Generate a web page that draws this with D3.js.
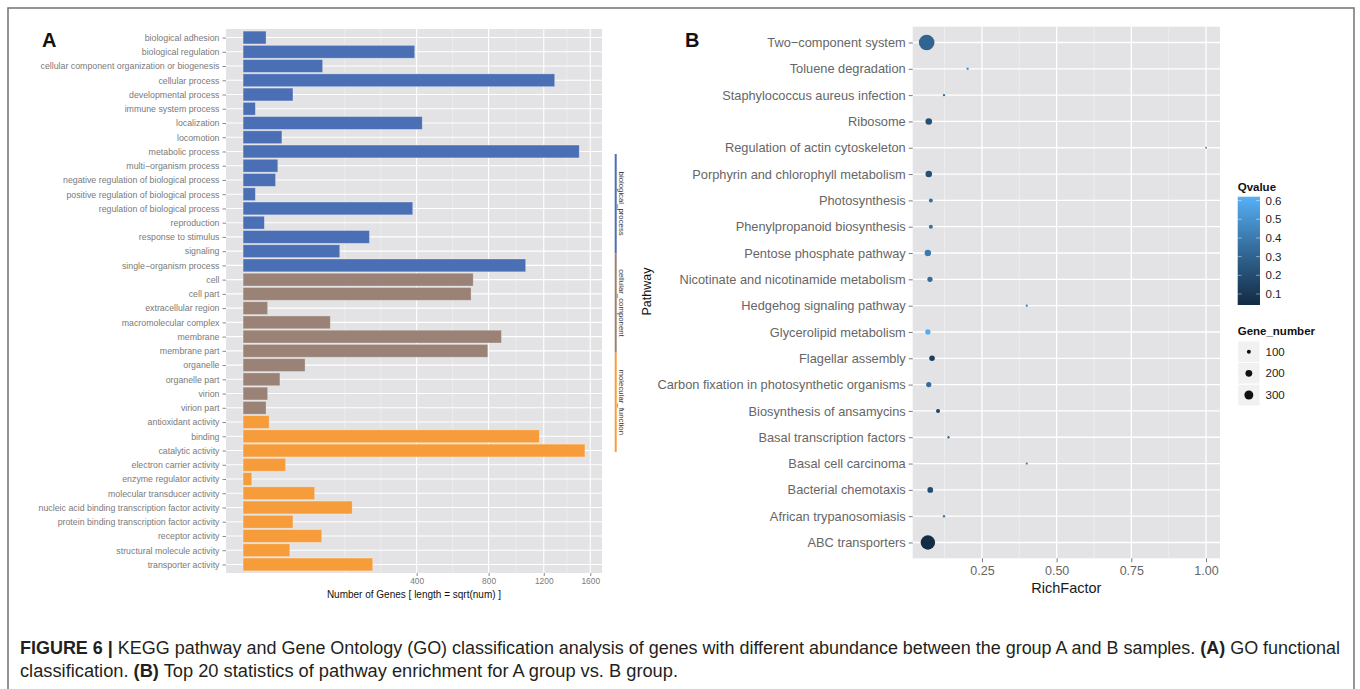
<!DOCTYPE html>
<html>
<head>
<meta charset="utf-8">
<script src="https://cdn.jsdelivr.net/npm/d3@7"></script>
<style>
  html, body { margin: 0; padding: 0; background: #ffffff; }
  svg { display: block; font-family: "Liberation Sans", Arial, Helvetica, sans-serif; }
</style>
</head>
<body>
<svg id="fig" width="1360" height="689"></svg>
<script>
// ---------- Panel A: GO functional classification ----------
const goTerms = [
  "biological adhesion", "biological regulation", "cellular component organization or biogenesis",
  "cellular process", "developmental process", "immune system process", "localization", "locomotion",
  "metabolic process", "multi\u2212organism process", "negative regulation of biological process",
  "positive regulation of biological process", "regulation of biological process", "reproduction",
  "response to stimulus", "signaling", "single\u2212organism process",
  "cell", "cell part", "extracellular region", "macromolecular complex", "membrane", "membrane part",
  "organelle", "organelle part", "virion", "virion part",
  "antioxidant activity", "binding", "catalytic activity", "electron carrier activity",
  "enzyme regulator activity", "molecular transducer activity",
  "nucleic acid binding transcription factor activity", "protein binding transcription factor activity",
  "receptor activity", "structural molecule activity", "transporter activity"
];
const goCounts = [
  7, 391, 84, 1289, 33, 2, 426, 20, 1500, 16, 14, 2, 382, 6, 212, 124, 1060,
  703, 690, 8, 101, 886, 795, 51, 18, 8, 7,
  9, 1165, 1551, 24, 1, 68, 158, 33, 82, 29, 223
];
const goClass = [
  ...Array(17).fill("biological_process"),
  ...Array(10).fill("cellular_component"),
  ...Array(11).fill("molecular_function")
];
const goClassNames = ["biological_process", "cellular_component", "molecular_function"];
const goClassColors = ["#4B6FB5", "#9A8376", "#F69C3A"];
const goTicks = [400, 800, 1200, 1600];

// ---------- Panel B: KEGG enrichment ----------
const pathways = [
  "Two\u2212component system", "Toluene degradation", "Staphylococcus aureus infection", "Ribosome",
  "Regulation of actin cytoskeleton", "Porphyrin and chlorophyll metabolism", "Photosynthesis",
  "Phenylpropanoid biosynthesis", "Pentose phosphate pathway", "Nicotinate and nicotinamide metabolism",
  "Hedgehog signaling pathway", "Glycerolipid metabolism", "Flagellar assembly",
  "Carbon fixation in photosynthetic organisms", "Biosynthesis of ansamycins",
  "Basal transcription factors", "Basal cell carcinoma", "Bacterial chemotaxis",
  "African trypanosomiasis", "ABC transporters"
];
const richFactor = [
  0.065, 0.202, 0.123, 0.072, 1.0, 0.072, 0.079, 0.079, 0.069, 0.076,
  0.40, 0.069, 0.083, 0.072, 0.103, 0.138, 0.40, 0.077, 0.123, 0.069
];
const qValues = [
  0.31, 0.50, 0.36, 0.22, 0.50, 0.22, 0.36, 0.36, 0.40, 0.34,
  0.42, 0.60, 0.14, 0.34, 0.15, 0.36, 0.42, 0.20, 0.40, 0.05
];
const geneNumber = [
  730, 58, 60, 190, 50, 190, 100, 100, 185, 140,
  55, 140, 150, 140, 100, 58, 55, 160, 60, 640
];
const richTicks = [0.25, 0.50, 0.75, 1.00];
const qTicks = [0.1, 0.2, 0.3, 0.4, 0.5, 0.6];
const qLimits = [0.041, 0.621];
const sizeTicks = [100, 200, 300];

const caption1 = [
  { t: "FIGURE 6 | ", b: true },
  { t: "KEGG pathway and Gene Ontology (GO) classification analysis of genes with different abundance between the group A and B samples. ", b: false },
  { t: "(A)", b: true },
  { t: " GO functional", b: false }
];
const caption2 = [
  { t: "classification. ", b: false },
  { t: "(B)", b: true },
  { t: " Top 20 statistics of pathway enrichment for A group vs. B group.", b: false }
];

// ---------- drawing ----------
const svg = d3.select("#fig");
const BG = "#E3E3E5";

// figure frame
svg.append("rect").attr("x", 8).attr("y", 8).attr("width", 1346).attr("height", 700)
  .attr("fill", "none").attr("stroke", "#7a7a7a").attr("stroke-width", 1.6);

// ggplot-style minor breaks: midpoints between majors, extended one step past the ends
function minorBreaks(majors, lo, hi) {
  const b = majors.slice();
  if (lo < b[0]) b.unshift(b[0] - (b[1] - b[0]));
  if (hi > b[b.length - 1]) b.push(b[b.length - 1] + (b[b.length - 1] - b[b.length - 2]));
  const out = [];
  for (let i = 0; i < b.length - 1; i++) out.push((b[i] + b[i + 1]) / 2);
  return b.concat(out).filter(v => v > lo && v < hi && !majors.includes(v));
}

// ===== Panel A =====
{
  const L = 226, R = 602, T = 29, B = 573;
  const gA = svg.append("g");
  const sMax = Math.sqrt(d3.max(goCounts));
  const pad = 0.05 * sMax;
  const x = d3.scaleSqrt().domain([-pad * pad, (sMax + pad) ** 2]).range([L, R]);
  const y = d3.scalePoint().domain(goTerms).range([T, B]).padding(0.6);
  const step = y.step();
  const color = d3.scaleOrdinal().domain(goClassNames).range(goClassColors);

  gA.append("rect").attr("x", L).attr("y", T).attr("width", R - L).attr("height", B - T).attr("fill", BG);

  // minor vertical grid (computed in sqrt space)
  const sq = goTicks.map(Math.sqrt);
  const minors = minorBreaks(sq, -pad, sMax + pad).map(s => s * s);
  gA.selectAll(".vminA").data(minors).join("line")
    .attr("x1", d => x(d)).attr("x2", d => x(d)).attr("y1", T).attr("y2", B)
    .attr("stroke", "#F2F2F3").attr("stroke-width", 0.6);
  gA.selectAll(".vmajA").data(goTicks).join("line")
    .attr("x1", d => x(d)).attr("x2", d => x(d)).attr("y1", T).attr("y2", B)
    .attr("stroke", "#ffffff").attr("stroke-width", 1.1);
  gA.selectAll(".hmajA").data(goTerms).join("line")
    .attr("x1", L).attr("x2", R).attr("y1", d => y(d)).attr("y2", d => y(d))
    .attr("stroke", "#ffffff").attr("stroke-width", 1.1);

  // bars
  gA.selectAll(".barA").data(goTerms).join("rect")
    .attr("x", x(0))
    .attr("y", d => y(d) - step * 0.45)
    .attr("width", (d, i) => x(goCounts[i]) - x(0))
    .attr("height", step * 0.9)
    .attr("fill", (d, i) => color(goClass[i]))
    .attr("stroke", "rgba(255,255,255,0.35)").attr("stroke-width", 0.8);

  // y axis
  const yAx = gA.append("g").attr("transform", `translate(${L},0)`)
    .call(d3.axisLeft(y).tickSize(3.5).tickPadding(3));
  yAx.select(".domain").remove();
  yAx.selectAll("line").attr("stroke", "#8a8a8a");
  yAx.selectAll("text").attr("fill", "#7a7a7a").style("font-size", "8.8px");

  // x axis
  const xAx = gA.append("g").attr("transform", `translate(0,${B})`)
    .call(d3.axisBottom(x).tickValues(goTicks).tickFormat(d3.format("d")).tickSize(3).tickPadding(2));
  xAx.select(".domain").remove();
  xAx.selectAll("line").attr("stroke", "#8a8a8a");
  xAx.selectAll("text").attr("fill", "#7a7a7a").style("font-size", "8.4px");

  gA.append("text").attr("x", (L + R) / 2).attr("y", 597.5).attr("text-anchor", "middle")
    .style("font-size", "10px").attr("fill", "#111").text("Number of Genes [ length = sqrt(num) ]");

  // pathway legend strip
  const segLen = 99.3, segTop = 154, lx = 615.7;
  goClassNames.forEach((c, i) => {
    gA.append("line").attr("x1", lx).attr("x2", lx)
      .attr("y1", segTop + i * segLen).attr("y2", segTop + (i + 1) * segLen)
      .attr("stroke", goClassColors[i]).attr("stroke-width", 2);
    gA.append("text")
      .attr("transform", `translate(${lx + 3.6},${segTop + (i + 0.5) * segLen}) rotate(90)`)
      .attr("text-anchor", "middle").style("font-size", "7.8px").attr("fill", "#333").text(c);
  });
  gA.append("text").attr("transform", `translate(651,291.5) rotate(-90)`)
    .attr("text-anchor", "middle").style("font-size", "12.5px").attr("fill", "#111").text("Pathway");

  svg.append("text").attr("x", 42).attr("y", 47).style("font-size", "20px").style("font-weight", "bold")
    .attr("fill", "#111").text("A");
}

// ===== Panel B =====
{
  const L = 912.7, R = 1220, T = 26.7, B = 558.3;
  const gB = svg.append("g");
  const [rmin, rmax] = d3.extent(richFactor);
  const ex = 0.05 * (rmax - rmin);
  const x = d3.scaleLinear().domain([rmin - ex, rmax + ex]).range([L, R]);
  const y = d3.scalePoint().domain(pathways).range([T, B]).padding(0.6);
  const col = d3.scaleLinear().domain(qLimits).range(["#132B43", "#56B1F7"]).interpolate(d3.interpolateLab);
  const rad = d3.scaleSqrt().domain(d3.extent(geneNumber)).range([1.0, 7.8]);

  gB.append("rect").attr("x", L).attr("y", T).attr("width", R - L).attr("height", B - T).attr("fill", BG);

  const minors = minorBreaks(richTicks, x.domain()[0], x.domain()[1]);
  gB.selectAll(".vminB").data(minors).join("line")
    .attr("x1", d => x(d)).attr("x2", d => x(d)).attr("y1", T).attr("y2", B)
    .attr("stroke", "#F2F2F3").attr("stroke-width", 0.7);
  gB.selectAll(".vmajB").data(richTicks).join("line")
    .attr("x1", d => x(d)).attr("x2", d => x(d)).attr("y1", T).attr("y2", B)
    .attr("stroke", "#ffffff").attr("stroke-width", 1.3);
  gB.selectAll(".hmajB").data(pathways).join("line")
    .attr("x1", L).attr("x2", R).attr("y1", d => y(d)).attr("y2", d => y(d))
    .attr("stroke", "#ffffff").attr("stroke-width", 1.3);

  // points
  gB.selectAll(".pt").data(pathways).join("circle")
    .attr("cx", (d, i) => x(richFactor[i]))
    .attr("cy", d => y(d))
    .attr("r", (d, i) => rad(geneNumber[i]))
    .attr("fill", (d, i) => col(qValues[i]));

  const yAx = gB.append("g").attr("transform", `translate(${L},0)`)
    .call(d3.axisLeft(y).tickSize(4).tickPadding(3));
  yAx.select(".domain").remove();
  yAx.selectAll("line").attr("stroke", "#7a7a7a");
  yAx.selectAll("text").attr("fill", "#666").style("font-size", "12.8px");

  const xAx = gB.append("g").attr("transform", `translate(0,${B})`)
    .call(d3.axisBottom(x).tickValues(richTicks).tickFormat(d3.format(".2f")).tickSize(4).tickPadding(4));
  xAx.select(".domain").remove();
  xAx.selectAll("line").attr("stroke", "#7a7a7a");
  xAx.selectAll("text").attr("fill", "#666").style("font-size", "12.5px");

  gB.append("text").attr("x", (L + R) / 2).attr("y", 592.5).attr("text-anchor", "middle")
    .style("font-size", "14.5px").attr("fill", "#1a1a1a").text("RichFactor");

  svg.append("text").attr("x", 685).attr("y", 47).style("font-size", "20px").style("font-weight", "bold")
    .attr("fill", "#111").text("B");

  // Qvalue colour bar
  const lgX = 1237.7, barW = 22.3;
  const qy = d3.scaleLinear().domain(qLimits).range([305, 196.7]);
  const grad = svg.append("defs").append("linearGradient").attr("id", "qgrad")
    .attr("x1", 0).attr("y1", 1).attr("x2", 0).attr("y2", 0);
  d3.range(0, 1.0001, 0.1).forEach(t => {
    grad.append("stop").attr("offset", t)
      .attr("stop-color", col(qLimits[0] + t * (qLimits[1] - qLimits[0])));
  });
  gB.append("text").attr("x", lgX).attr("y", 190.5).style("font-size", "11.5px").style("font-weight", "bold")
    .attr("fill", "#111").text("Qvalue");
  gB.append("rect").attr("x", lgX).attr("y", qy(qLimits[1])).attr("width", barW)
    .attr("height", qy(qLimits[0]) - qy(qLimits[1])).attr("fill", "url(#qgrad)");
  qTicks.forEach(v => {
    gB.append("line").attr("x1", lgX).attr("x2", lgX + 4).attr("y1", qy(v)).attr("y2", qy(v))
      .attr("stroke", "rgba(255,255,255,0.55)").attr("stroke-width", 0.8);
    gB.append("line").attr("x1", lgX + barW - 4).attr("x2", lgX + barW).attr("y1", qy(v)).attr("y2", qy(v))
      .attr("stroke", "rgba(255,255,255,0.55)").attr("stroke-width", 0.8);
    gB.append("text").attr("x", lgX + barW + 5.5).attr("y", qy(v)).attr("dy", "0.36em")
      .style("font-size", "11.5px").attr("fill", "#222").text(d3.format(".1f")(v));
  });

  // Gene_number size legend
  gB.append("text").attr("x", lgX).attr("y", 334.5).style("font-size", "11.5px").style("font-weight", "bold")
    .attr("fill", "#111").text("Gene_number");
  const keyH = 21.7, keyTop = 340.8;
  sizeTicks.forEach((v, i) => {
    const cy = keyTop + (i + 0.5) * keyH;
    gB.append("rect").attr("x", lgX).attr("y", keyTop + i * keyH).attr("width", barW).attr("height", keyH)
      .attr("fill", "#F1F1F2").attr("stroke", "#ffffff").attr("stroke-width", 1);
    gB.append("circle").attr("cx", lgX + barW / 2).attr("cy", cy).attr("r", rad(v)).attr("fill", "#111");
    gB.append("text").attr("x", lgX + barW + 5.5).attr("y", cy).attr("dy", "0.36em")
      .style("font-size", "11.5px").attr("fill", "#222").text(v);
  });
}

// ===== Caption =====
function captionLine(parts, yb, width) {
  const t = svg.append("text").attr("x", 20).attr("y", yb)
    .style("font-family", "'Liberation Sans Narrow', 'Arial Narrow', 'Liberation Sans', sans-serif")
    .style("font-size", "17.5px").attr("fill", "#231f20");
  parts.forEach(p => t.append("tspan").style("font-weight", p.b ? "bold" : "normal").text(p.t));
  t.attr("textLength", width).attr("lengthAdjust", "spacingAndGlyphs");
}
captionLine(caption1, 654, 1320);
captionLine(caption2, 677, 658);
</script>
</body>
</html>
